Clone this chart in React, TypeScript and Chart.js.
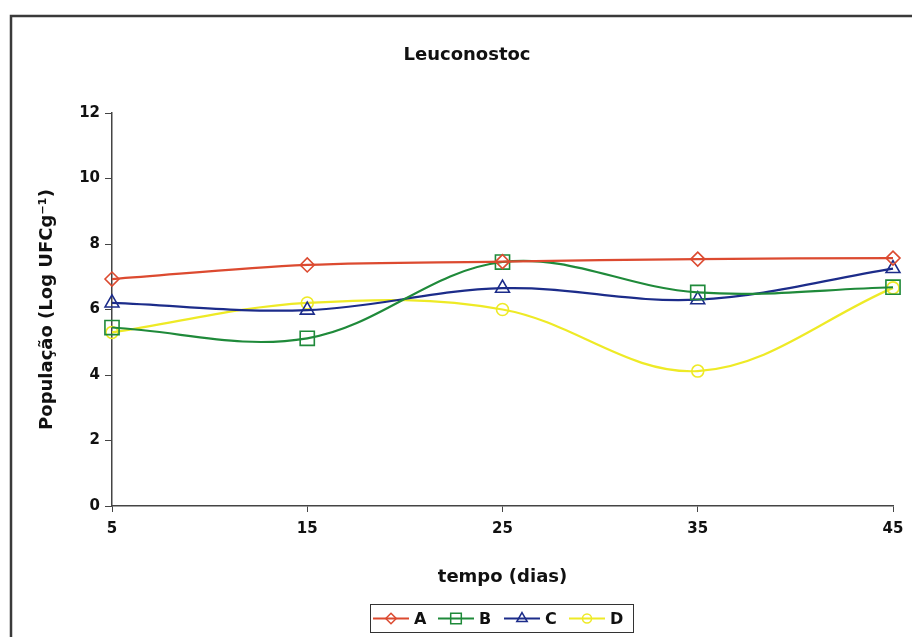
import React, { useEffect, useRef } from "react";
import { Chart, registerables } from "chart.js";

Chart.register(...registerables);

// Sampling days (x axis) and log population per treatment
const days = [5, 15, 25, 35, 45];
const seriesNames = ["A", "B", "C", "D"];
const valuesA = [6.93, 7.36, 7.46, 7.54, 7.57];
const valuesB = [5.45, 5.12, 7.45, 6.52, 6.68];
const valuesC = [6.2, 5.98, 6.65, 6.3, 7.25];
const valuesD = [5.3, 6.2, 6.0, 4.12, 6.66];
const yTicks = [0, 2, 4, 6, 8, 10, 12];
const chartTitle = "Leuconostoc";

const colors = ["#dc4a30", "#1f8a3a", "#1c2c8a", "#eeea26"];
const pointStyles = ["rectRot", "rect", "triangle", "circle"] as const;
const pointRadii = [7, 10, 8, 6];

const FONT = "'DejaVu Sans', sans-serif";

type Pt = { x: number; y: number };
const toPoints = (vals: number[]): Pt[] => days.map((d, i) => ({ x: d, y: vals[i] }));

function drawMarker(ctx: CanvasRenderingContext2D, style: string, x: number, y: number, r: number) {
  ctx.beginPath();
  if (style === "rectRot") {
    ctx.moveTo(x, y - r);
    ctx.lineTo(x + r, y);
    ctx.lineTo(x, y + r);
    ctx.lineTo(x - r, y);
    ctx.closePath();
  } else if (style === "rect") {
    const s = r * Math.SQRT1_2;
    ctx.rect(x - s, y - s, 2 * s, 2 * s);
  } else if (style === "triangle") {
    for (let k = 0; k < 3; k++) {
      const a = (k * 2 * Math.PI) / 3;
      const px = x + Math.sin(a) * r;
      const py = y - Math.cos(a) * r;
      if (k === 0) ctx.moveTo(px, py);
      else ctx.lineTo(px, py);
    }
    ctx.closePath();
  } else {
    ctx.arc(x, y, r, 0, Math.PI * 2);
  }
  ctx.stroke();
}

// Outer frame, chart title and a boxed legend showing line + marker per series
const framePlugin = {
  id: "frameAndLegend",
  afterDraw(chart: Chart) {
    const ctx = chart.ctx;
    ctx.save();
    ctx.strokeStyle = "#3a3a3a";
    ctx.lineWidth = 2.5;
    ctx.beginPath();
    ctx.moveTo(11, 637);
    ctx.lineTo(11, 16);
    ctx.lineTo(912, 16);
    ctx.stroke();

    ctx.fillStyle = "#111";
    ctx.font = `bold 18px ${FONT}`;
    ctx.textAlign = "center";
    ctx.textBaseline = "middle";
    ctx.fillText(chartTitle, 467, 55);

    // legend box
    ctx.lineWidth = 1;
    ctx.strokeStyle = "#333";
    ctx.strokeRect(370.5, 604.5, 263, 28);

    const cy = 618.5;
    const itemX = [373, 438, 504, 569];
    ctx.font = `bold 16px ${FONT}`;
    ctx.textAlign = "left";
    seriesNames.forEach((name, i) => {
      const x0 = itemX[i];
      const lineLen = 36;
      ctx.strokeStyle = colors[i];
      ctx.lineWidth = 2;
      ctx.beginPath();
      ctx.moveTo(x0, cy);
      ctx.lineTo(x0 + lineLen, cy);
      ctx.stroke();
      ctx.lineWidth = 1.5;
      drawMarker(ctx, pointStyles[i], x0 + lineLen / 2, cy, pointRadii[i] * 0.75);
      ctx.fillStyle = "#111";
      ctx.fillText(name, x0 + lineLen + 5, cy + 1);
    });
    ctx.restore();
  },
};

export default function App() {
  const canvasRef = useRef<HTMLCanvasElement | null>(null);

  useEffect(() => {
    if (!canvasRef.current) return;
    const allValues = [valuesA, valuesB, valuesC, valuesD];
    const chart = new Chart(canvasRef.current, {
      type: "line",
      data: {
        datasets: seriesNames.map((name, i) => ({
          label: name,
          data: toPoints(allValues[i]),
          borderColor: colors[i],
          backgroundColor: colors[i],
          borderWidth: 2.2,
          tension: 0.36,
          fill: false,
          clip: false as any,
          pointStyle: pointStyles[i],
          pointRadius: pointRadii[i],
          pointBorderWidth: 1.6,
          pointBorderColor: colors[i],
          pointBackgroundColor: "rgba(0,0,0,0)",
        })),
      },
      options: {
        animation: false,
        responsive: false,
        maintainAspectRatio: false,
        events: [],
        layout: { padding: { left: 0, right: 19, top: 113, bottom: 0 } },
        plugins: {
          legend: { display: false },
          tooltip: { enabled: false },
          title: { display: false },
        },
        scales: {
          x: {
            type: "linear",
            min: 5,
            max: 45,
            afterBuildTicks: (scale: any) => {
              scale.ticks = days.map((v) => ({ value: v }));
            },
            afterFit: (scale: any) => {
              scale.height = 131;
            },
            ticks: {
              color: "#111",
              padding: 8,
              maxRotation: 0,
              font: { family: FONT, size: 15, weight: "bold" },
            },
            grid: {
              display: true,
              drawOnChartArea: false,
              drawTicks: true,
              tickLength: 6,
              color: "#444",
            },
            border: { display: true, color: "#444", width: 1.5 },
            title: {
              display: true,
              text: "tempo (dias)",
              color: "#111",
              font: { family: FONT, size: 18, weight: "bold", lineHeight: 1.2 },
              padding: { top: 0, bottom: 49 },
            },
          },
          y: {
            type: "linear",
            min: 0,
            max: 12,
            afterBuildTicks: (scale: any) => {
              scale.ticks = yTicks.map((v) => ({ value: v }));
            },
            afterFit: (scale: any) => {
              scale.width = 112;
            },
            ticks: {
              color: "#111",
              padding: 5,
              font: { family: FONT, size: 15, weight: "bold" },
            },
            grid: {
              display: true,
              drawOnChartArea: false,
              drawTicks: true,
              tickLength: 7,
              color: "#444",
            },
            border: { display: true, color: "#444", width: 1.5 },
            title: {
              display: true,
              text: "População (Log UFCg⁻¹)",
              color: "#111",
              font: { family: FONT, size: 18, weight: "bold", lineHeight: 1.2 },
              padding: { top: 37, bottom: 0 },
            },
          },
        },
      },
      plugins: [framePlugin],
    });
    return () => chart.destroy();
  }, []);

  return (
    <div style={{ position: "fixed", left: 0, top: 0, width: 912, height: 637, background: "#fff" }}>
      <canvas ref={canvasRef} width={912} height={637} style={{ width: 912, height: 637, display: "block" }} />
    </div>
  );
}
